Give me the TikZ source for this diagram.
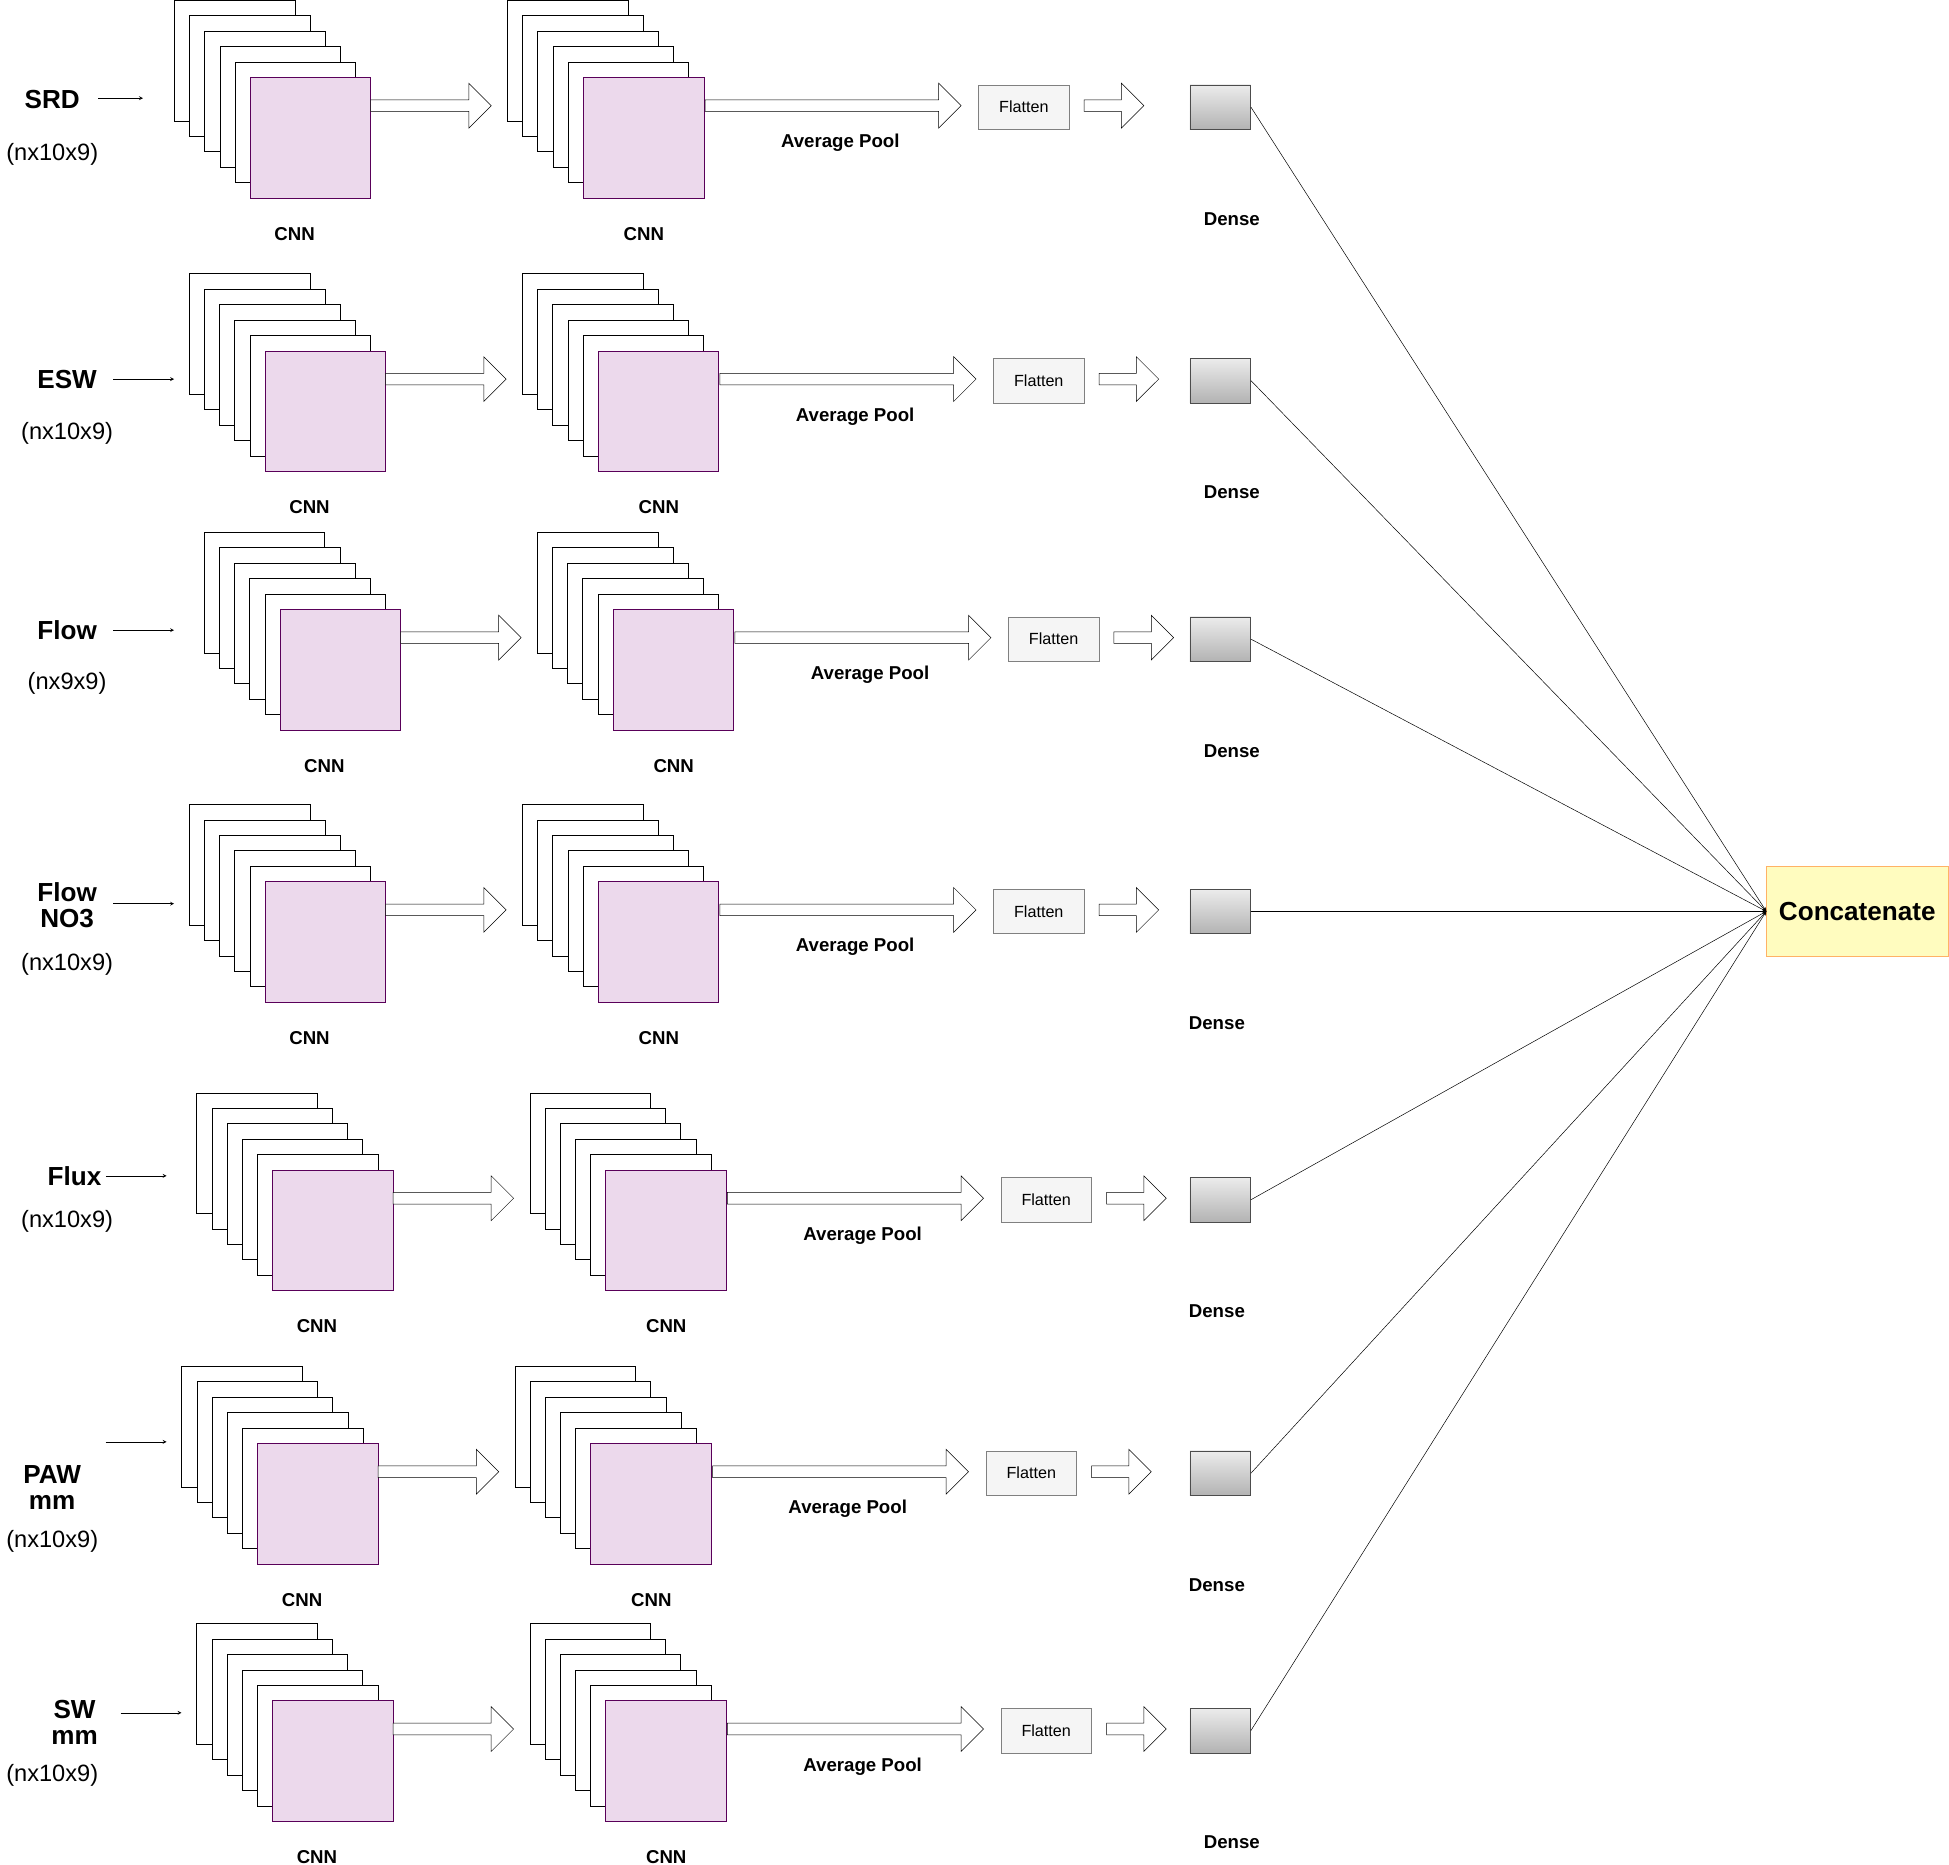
\documentclass[tikz,border=0pt]{standalone}
\usepackage{fontspec}
\setmainfont{Liberation Sans}
\usetikzlibrary{shapes.arrows,positioning}
\tikzset
{
    layer/.style   = {draw=black, fill=white, minimum size=97pt, anchor=north west, inner sep=0pt},
    filter/.style  = {draw=violet!70!black, fill=violet!15, minimum size=97pt, anchor=north west, inner sep=0pt},
    bigarrow/.style = {single arrow, draw=black, fill=white, minimum width=36pt, single arrow head extend=12pt, inner sep=4pt, anchor=west},
    flatbox/.style = {draw=gray, fill=gray!8, minimum width=73pt, minimum height=36pt, font=\fontsize{13}{15}\selectfont},
    densebox/.style = {draw=gray!60!black, top color=gray!15, bottom color=gray!60, minimum width=49pt, minimum height=36pt, anchor=north west},
    lbl/.style     = {font=\bfseries\fontsize{15}{17}\selectfont},
    inlbl/.style   = {font=\bfseries\fontsize{21}{25}\selectfont, align=center},
    dimlbl/.style  = {font=\fontsize{19}{22}\selectfont}
}
\begin{document}
\begin{tikzpicture}[x=1pt, y=-1pt, >=stealth]
    \useasboundingbox (0,0) rectangle (1568,1500);
    \node [draw=orange!60, fill=yellow!25, minimum width=146pt, minimum height=72pt, anchor=north west,
           font=\bfseries\fontsize{21}{25}\selectfont] (concat) at (1421,697) {Concatenate};
    % one row per input
    \foreach \r/\dx/\yo/\fx/\dlx in {1/0/0/787/991, 2/12/220/799/991, 3/24/428/811/991, 4/12/647/799/979,
                                    5/18/879/805/979, 6/6/1099/793/979, 7/18/1306/805/991}
    {
        \foreach \k in {0,...,4}
            \node [layer] at (140+\dx+12.2*\k, \yo+12.4*\k) {};
        \node [filter] (cnna\r) at (201+\dx, \yo+62) {};
        \foreach \k in {0,...,4}
            \node [layer] at (408+\dx+12.2*\k, \yo+12.4*\k) {};
        \node [filter] (cnnb\r) at (469+\dx, \yo+62) {};
        \node [bigarrow, minimum height=97pt] (arra\r) at (298+\dx, \yo+85) {};
        \node [bigarrow, minimum height=206pt] (arrb\r) at (567+\dx, \yo+85) {};
        \node [flatbox, anchor=north west] (flat\r) at (\fx, \yo+68) {Flatten};
        \node [bigarrow, minimum height=48pt] (arrc\r) at (872+\fx-787, \yo+85) {};
        \node [densebox] (dense\r) at (957, \yo+68) {};
        \node [lbl] at (676+\dx, \yo+115) {Average Pool};
        \node [lbl] at (237+\dx, \yo+188) {CNN};
        \node [lbl] at (518+\dx, \yo+188) {CNN};
        \node [lbl] at (\dlx, \yo+176) {Dense};
        \draw [->] (dense\r.east) -- (concat.west);
    }
    % inputs
    \node [inlbl] (in1) at (42,80) {SRD};
    \node [dimlbl] at (42,124) {(nx10x9)};
    \draw [->] (79,79) -- (115,79);
    \node [inlbl] (in2) at (54,305) {ESW};
    \node [dimlbl] at (54,349) {(nx10x9)};
    \draw [->] (91,305) -- (140,305);
    \node [inlbl] (in3) at (54,507) {Flow};
    \node [dimlbl] at (54,550) {(nx9x9)};
    \draw [->] (91,507) -- (140,507);
    \node [inlbl] (in4) at (54,728) {Flow\\[-4pt]NO3};
    \node [dimlbl] at (54,776) {(nx10x9)};
    \draw [->] (91,727) -- (140,727);
    \node [inlbl] (in5) at (60,946) {Flux};
    \node [dimlbl] at (54,983) {(nx10x9)};
    \draw [->] (in5.east) -- (134,946);
    \node [inlbl] (in6) at (42,1197) {PAW\\[-4pt]mm};
    \node [dimlbl] at (42,1240) {(nx10x9)};
    \draw [->] (85,1160) -- (134,1160);
    \node [inlbl] (in7) at (60,1386) {SW\\[-4pt]mm};
    \node [dimlbl] at (42,1428) {(nx10x9)};
    \draw [->] (97,1378) -- (146,1378);
\end{tikzpicture}
\end{document}
